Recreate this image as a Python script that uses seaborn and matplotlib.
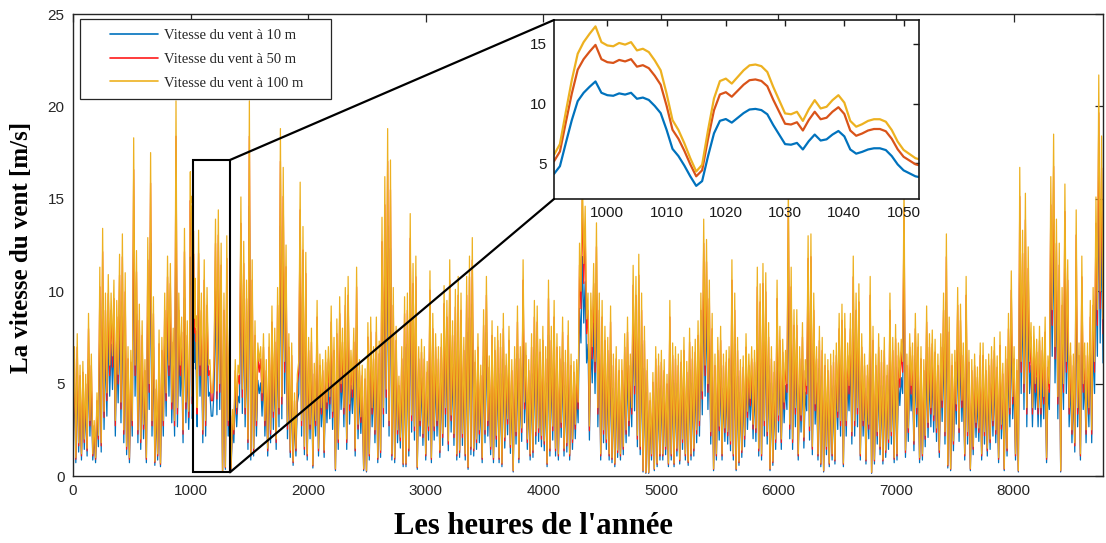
import numpy as np
import pandas as pd
import matplotlib
matplotlib.use("Agg")
import matplotlib.pyplot as plt
from matplotlib import font_manager
import seaborn as sns
from matplotlib.patches import Rectangle, ConnectionPatch
from matplotlib.legend_handler import HandlerLine2D
from matplotlib.lines import Line2D

# ---------------------------------------------------------------------------
# Wind speed at 100 m over the year, every 12 h (lows at 00 h, highs at 12 h) [m/s]
lows_100m = [
    2.0, 1.0, 1.8, 1.2, 2.0, 1.5, 3.0, 1.2, 1.0, 2.2, 1.8, 3.5, 4.5, 6.0, 6.5, 3.0, 5.5, 4.0, 2.5, 1.6,
    1.0, 3.0, 6.0, 2.5, 2.0, 2.8, 1.0, 5.0, 3.0, 0.8, 1.2, 0.7, 3.0, 4.5, 6.0, 4.0, 3.0,
    3.7, 6.0, 2.5, 4.0, 3.5, 13.6, 9.3, 3.7, 6.0, 2.5, 3.0, 6.0, 4.5, 6.5, 4.6, 5.0, 0.3, 0.5, 3.0,
    0.4, 2.5, 3.7, 5.5, 4.7, 3.7, 2.0, 1.2, 1.5, 3.0, 6.2, 4.5, 3.0, 1.5, 2.5, 3.5, 2.0,
    3.7, 4.3, 6.2, 2.8, 1.4, 0.8, 1.5, 6.2, 3.0, 1.6, 1.2, 2.8, 0.6, 3.0, 1.5, 3.7, 1.4, 4.0, 4.3, 3.5,
    0.4, 2.0, 5.0, 3.7, 2.0, 3.9, 4.7, 1.5, 2.8, 3.2, 0.4, 0.3, 1.2, 3.7, 2.5, 1.0,
    1.4, 3.7, 4.7, 3.0, 1.2, 1.0, 2.5, 2.1, 0.7, 0.7, 1.5, 3.3, 2.7, 0.5, 3.0, 2.3, 1.2, 2.7, 1.0, 2.7,
    3.0, 1.4, 2.3, 3.7, 1.9, 3.3, 2.3, 1.2, 1.4, 2.3, 1.2, 0.5, 1.6, 1.5, 2.0, 2.5, 1.0,
    2.5, 3.0, 1.6, 1.0, 2.2, 1.0, 0.7, 2.1, 3.1, 1.7, 0.3, 2.4, 1.0, 2.6, 4.0, 2.0, 1.2, 1.4, 2.4, 2.6,
    2.2, 1.9, 0.7, 1.5, 2.7, 1.5, 1.2, 2.9, 1.5, 1.8, 1.2, 2.0, 2.8, 4.0, 10.0, 11.5, 8.5,
    2.7, 7.0, 6.2, 3.7, 1.2, 2.5, 2.0, 1.2, 1.0, 0.7, 1.4, 1.2, 1.6, 2.5, 3.0, 3.7, 4.9, 2.2, 1.6, 0.3,
    0.2, 0.2, 1.2, 0.4, 0.7, 1.2, 1.2, 1.6, 0.7, 1.2, 0.7, 1.5, 0.9, 2.0, 1.2, 0.8,
    1.2, 1.5, 2.5, 3.0, 4.6, 6.0, 5.0, 2.4, 0.4, 1.2, 2.7, 1.2, 2.6, 2.4, 1.9, 1.2, 0.4, 0.8, 1.4, 2.2,
    3.5, 4.2, 2.8, 2.6, 1.5, 1.2, 3.0, 2.4, 0.4, 0.8, 2.0, 3.3, 2.0, 4.0, 5.0, 2.8, 2.0,
    3.7, 1.2, 3.3, 2.1, 4.9, 2.7, 1.6, 3.9, 1.2, 0.7, 0.3, 1.6, 0.7, 1.2, 0.9, 3.5, 3.0, 0.7, 3.0, 4.9,
    2.4, 3.0, 3.7, 1.2, 3.0, 0.9, 2.8, 0.2, 0.9, 2.4, 1.6, 0.9, 1.4, 2.0, 2.4, 1.0,
    1.2, 5.3, 6.2, 1.4, 2.6, 4.9, 1.9, 3.7, 1.0, 1.2, 2.2, 2.9, 3.7, 3.3, 2.6, 1.4, 4.1, 2.4, 0.6, 0.4,
    1.9, 3.9, 2.6, 4.1, 1.2, 2.4, 0.4, 1.6, 2.9, 2.6, 1.2, 2.4, 1.5, 2.0, 3.0, 2.5, 1.0,
    2.8, 0.4, 1.5, 3.7, 4.3, 1.2, 0.3, 6.2, 5.0, 3.7, 6.2, 3.7, 5.0, 3.7, 3.7, 4.3, 1.0, 5.0, 9.0, 7.0,
    4.3, 0.3, 5.0, 6.2, 3.7, 2.5, 1.8, 3.7, 1.2, 5.0, 2.5, 3.7, 2.5, 6.2, 9.0, 10.0, 8.5,
]
highs_100m = [
    7.0, 7.7, 6.0, 6.2, 5.5, 8.8, 6.6, 3.0, 4.5, 11.3, 13.4, 9.9, 10.9, 9.9, 10.6, 9.5, 12.0, 13.1, 11.0, 7.0,
    6.8, 18.3, 12.2, 9.3, 8.4, 6.3, 12.9, 17.5, 9.7, 5.2, 7.9, 7.5, 9.9, 11.9, 11.5, 8.0, 20.3,
    9.9, 8.6, 13.4, 8.4, 15.1, 12.1, 8.5, 13.3, 9.9, 11.7, 10.2, 6.3, 4.5, 13.9, 14.4, 12.6, 9.9, 13.0, 8.1,
    3.6, 6.3, 6.0, 15.1, 12.7, 10.6, 20.3, 11.7, 8.4, 7.2, 7.0, 7.7, 6.3, 7.7, 9.2, 8.0, 10.2,
    18.8, 16.7, 12.5, 7.7, 7.2, 4.5, 5.5, 15.9, 13.5, 12.1, 7.5, 8.0, 6.1, 9.5, 6.6, 6.3, 6.8, 7.0, 9.2, 7.5,
    8.5, 9.7, 8.0, 10.2, 10.8, 6.8, 8.0, 11.3, 6.3, 6.0, 5.8, 8.3, 8.6, 7.0, 8.6, 7.3,
    14.0, 16.2, 18.8, 17.1, 10.2, 8.1, 5.4, 7.0, 9.7, 9.9, 14.2, 11.5, 11.9, 7.0, 7.4, 7.0, 6.2, 11.1, 8.8, 7.7,
    7.0, 7.7, 10.3, 9.5, 11.7, 8.4, 10.1, 10.8, 9.9, 7.5, 10.8, 11.9, 12.9, 6.8, 7.7, 6.0, 9.0,
    10.8, 6.5, 8.4, 7.5, 8.1, 7.7, 8.8, 6.6, 8.1, 6.3, 7.0, 9.2, 7.0, 11.7, 7.2, 6.3, 7.7, 9.5, 9.2, 7.4,
    8.1, 7.0, 10.6, 8.1, 9.5, 7.7, 7.0, 8.6, 6.8, 8.4, 6.6, 6.2, 6.3, 12.6, 16.5, 14.6, 9.9,
    9.9, 11.5, 13.7, 9.9, 9.5, 8.1, 7.5, 9.2, 6.6, 7.0, 6.3, 6.3, 7.7, 8.6, 6.6, 11.4, 10.8, 12.0, 9.9, 8.1,
    6.3, 4.5, 5.6, 7.0, 6.6, 6.8, 6.3, 5.5, 9.5, 7.2, 7.0, 6.6, 6.8, 7.5, 6.2, 8.0,
    7.0, 7.4, 8.4, 9.9, 13.9, 12.8, 10.6, 8.8, 6.6, 7.5, 8.1, 6.6, 6.8, 7.0, 11.7, 9.9, 7.5, 6.3, 6.5, 7.7,
    6.6, 7.0, 6.8, 11.3, 10.4, 11.5, 11.0, 8.3, 7.0, 6.2, 10.6, 8.1, 7.4, 6.8, 16.0, 11.3, 9.0,
    9.0, 7.0, 8.3, 6.3, 13.0, 13.1, 9.9, 7.0, 8.1, 7.5, 6.6, 6.3, 6.6, 6.8, 7.2, 8.8, 9.3, 8.8, 7.2, 8.8,
    11.9, 9.9, 10.4, 7.7, 6.6, 6.0, 10.8, 8.1, 6.6, 7.7, 6.8, 7.5, 6.0, 9.9, 7.5, 8.2,
    7.2, 7.4, 16.0, 6.6, 7.7, 7.2, 8.8, 7.7, 7.0, 6.3, 9.2, 7.7, 7.9, 7.4, 6.6, 7.7, 9.9, 13.1, 8.6, 6.6,
    6.8, 10.2, 9.3, 7.2, 10.8, 6.8, 6.3, 6.6, 5.9, 7.2, 7.2, 6.3, 6.6, 7.0, 7.5, 6.5, 7.8,
    6.1, 7.0, 8.8, 11.1, 7.0, 6.3, 16.7, 13.3, 15.3, 12.4, 8.3, 8.1, 7.4, 8.1, 7.5, 8.6, 6.5, 16.2, 18.5, 13.9,
    12.6, 10.2, 15.8, 11.7, 7.2, 6.6, 14.4, 7.2, 11.9, 7.2, 7.2, 9.5, 10.2, 15.1, 21.7, 18.4,
]

# Hourly wind speed at 10 m, hours 991-1053 [m/s]
detail_hours = list(range(991, 1054))
detail_10m = [
    4.1, 4.75, 6.7, 8.6, 10.2, 10.9, 11.4, 11.85, 10.9, 10.7,
    10.65, 10.85, 10.75, 10.9, 10.4, 10.5, 10.3, 9.8, 9.2, 7.8,
    6.2, 5.6, 4.8, 3.9, 3.1, 3.5, 5.6, 7.5, 8.55, 8.7,
    8.4, 8.8, 9.2, 9.5, 9.55, 9.45, 9.1, 8.2, 7.4, 6.6,
    6.55, 6.7, 6.15, 6.85, 7.4, 6.9, 7.0, 7.4, 7.7, 7.25,
    6.15, 5.8, 5.95, 6.15, 6.25, 6.25, 6.1, 5.6, 4.9, 4.4,
    4.15, 3.9, 3.8,
]

heights_m = [10, 50, 100]
series_labels = ["Vitesse du vent à 10 m", "Vitesse du vent à 50 m", "Vitesse du vent à 100 m"]
shear_exponent = 1 / 7          # Hellmann power-law exponent
step_h = 12

main_colors = ["#0072BD", "#FF1A1A", "#EDB120"]
detail_colors = ["#0072BD", "#D95319", "#EDB120"]

# ---------------------------------------------------------------------------
# Build the year series (10 m reference) and extrapolate to each height
grid_100 = np.empty(len(lows_100m) + len(highs_100m))
grid_100[0::2] = lows_100m
grid_100[1::2] = highs_100m
grid_hours = np.arange(len(grid_100)) * step_h
grid_10 = grid_100 / (100 / 10) ** shear_exponent

year = pd.DataFrame({"hour": grid_hours, "v10": grid_10})
year = year[(year.hour < detail_hours[0]) | (year.hour > detail_hours[-1])]
detail = pd.DataFrame({"hour": detail_hours, "v10": detail_10m})
year = pd.concat([year, detail]).sort_values("hour").reset_index(drop=True)


def to_long(df):
    parts = []
    for h, lab in zip(heights_m, series_labels):
        parts.append(pd.DataFrame({"hour": df.hour.values,
                                   "speed": df.v10.values * (h / 10) ** shear_exponent,
                                   "series": lab}))
    return pd.concat(parts, ignore_index=True)


year_long = to_long(year)
detail_long = to_long(detail)

# ---------------------------------------------------------------------------
sns.set_theme(style="white")
plt.rcParams["font.family"] = ["Liberation Sans", "DejaVu Sans"]

installed = {f.name for f in font_manager.fontManager.ttflist}
if "Liberation Sans Narrow" in installed:
    inset_font = dict(family="Liberation Sans Narrow", size=13)
else:
    inset_font = dict(family="Liberation Sans", size=11)

fig = plt.figure(figsize=(11.06, 5.43), dpi=100)
ax = fig.add_axes([73 / 1106, 1 - 476 / 543, 1030 / 1106, 462 / 543])

sns.lineplot(data=year_long, x="hour", y="speed", hue="series",
             hue_order=series_labels, palette=main_colors,
             estimator=None, sort=False, linewidth=0.9, legend=False, ax=ax)

ax.set_xlim(0, 8760)
ax.set_ylim(0, 25)
ax.set_xticks(np.arange(0, 8001, 1000))
ax.set_yticks(np.arange(0, 26, 5))
ax.tick_params(direction="in", length=6, width=0.9, top=True, right=True,
               labelsize=11, colors="#262626", pad=6)
for sp in ax.spines.values():
    sp.set_linewidth(1.0)
    sp.set_color("#262626")

label_font = dict(family=["Liberation Serif", "DejaVu Serif"], weight="bold", color="black")
ax.set_xlabel("")
ax.set_ylabel("")
fig.text(533 / 1106, 1 - 527 / 543, "Les heures de l'année", ha="center", va="center",
         size=22, **label_font)
fig.text(22 / 1106, 1 - 247 / 543, "La vitesse du vent [m/s]", ha="center", va="center",
         rotation=90, size=18, **label_font)


# legend: handle line drawn on the right part of a wider handle box
class LeadLineHandler(HandlerLine2D):
    def __init__(self, lead_frac, **kw):
        super().__init__(**kw)
        self.lead_frac = lead_frac

    def get_xdata(self, legend, xdescent, ydescent, width, height, fontsize):
        x0 = -xdescent + self.lead_frac * width
        x1 = -xdescent + width
        return [x0, x1], [0.5 * (x0 + x1)]


handles = [Line2D([], [], color=c, linewidth=1.2) for c in main_colors]
leg = ax.legend(handles, series_labels, loc="upper left",
                bbox_to_anchor=(80 / 1106, 1 - 98 / 543, 251 / 1106, 79 / 543),
                bbox_transform=fig.transFigure, mode="expand", borderaxespad=0,
                prop={"family": ["Liberation Serif", "DejaVu Serif"], "size": 10.5},
                handlelength=4.7, handletextpad=0.35, labelspacing=0.72, borderpad=0.68,
                fancybox=False, framealpha=1, edgecolor="#262626",
                handler_map={Line2D: LeadLineHandler(0.30)})
leg.get_frame().set_linewidth(0.9)

# zoom window on the main axes
win_x0, win_x1, win_y0, win_y1 = 1020, 1335, 0.2, 17.1
ax.add_patch(Rectangle((win_x0, win_y0), win_x1 - win_x0, win_y1 - win_y0,
                       fill=False, edgecolor="black", linewidth=1.5, zorder=5))

# inset with the hourly detail
axins = fig.add_axes([554 / 1106, 1 - 199 / 543, 365 / 1106, 179 / 543])
axins.set_facecolor("white")
sns.lineplot(data=detail_long, x="hour", y="speed", hue="series",
             hue_order=series_labels, palette=detail_colors,
             estimator=None, sort=False, linewidth=1.6, legend=False, ax=axins)
axins.set_xlim(991, 1052.6)
axins.set_ylim(2, 17)
axins.set_xticks(np.arange(1000, 1051, 10))
axins.set_yticks([5, 10, 15])
axins.set_xlabel("")
axins.set_ylabel("")
axins.tick_params(direction="in", length=4, width=1.0, top=True, right=True,
                  colors="#1a1a1a", pad=5)
for lab in axins.get_xticklabels() + axins.get_yticklabels():
    lab.set_fontfamily(inset_font["family"])
    lab.set_fontsize(inset_font["size"])
for sp in axins.spines.values():
    sp.set_linewidth(1.2)
    sp.set_color("#1a1a1a")

for xy_in in [(0, 1), (0, 0)]:
    yA = win_y1 if xy_in[1] == 1 else win_y0
    con = ConnectionPatch(xyA=(win_x1, yA), coordsA=ax.transData,
                          xyB=xy_in, coordsB=axins.transAxes,
                          color="black", linewidth=1.6)
    fig.add_artist(con)

fig.savefig("out.png", dpi=100)
